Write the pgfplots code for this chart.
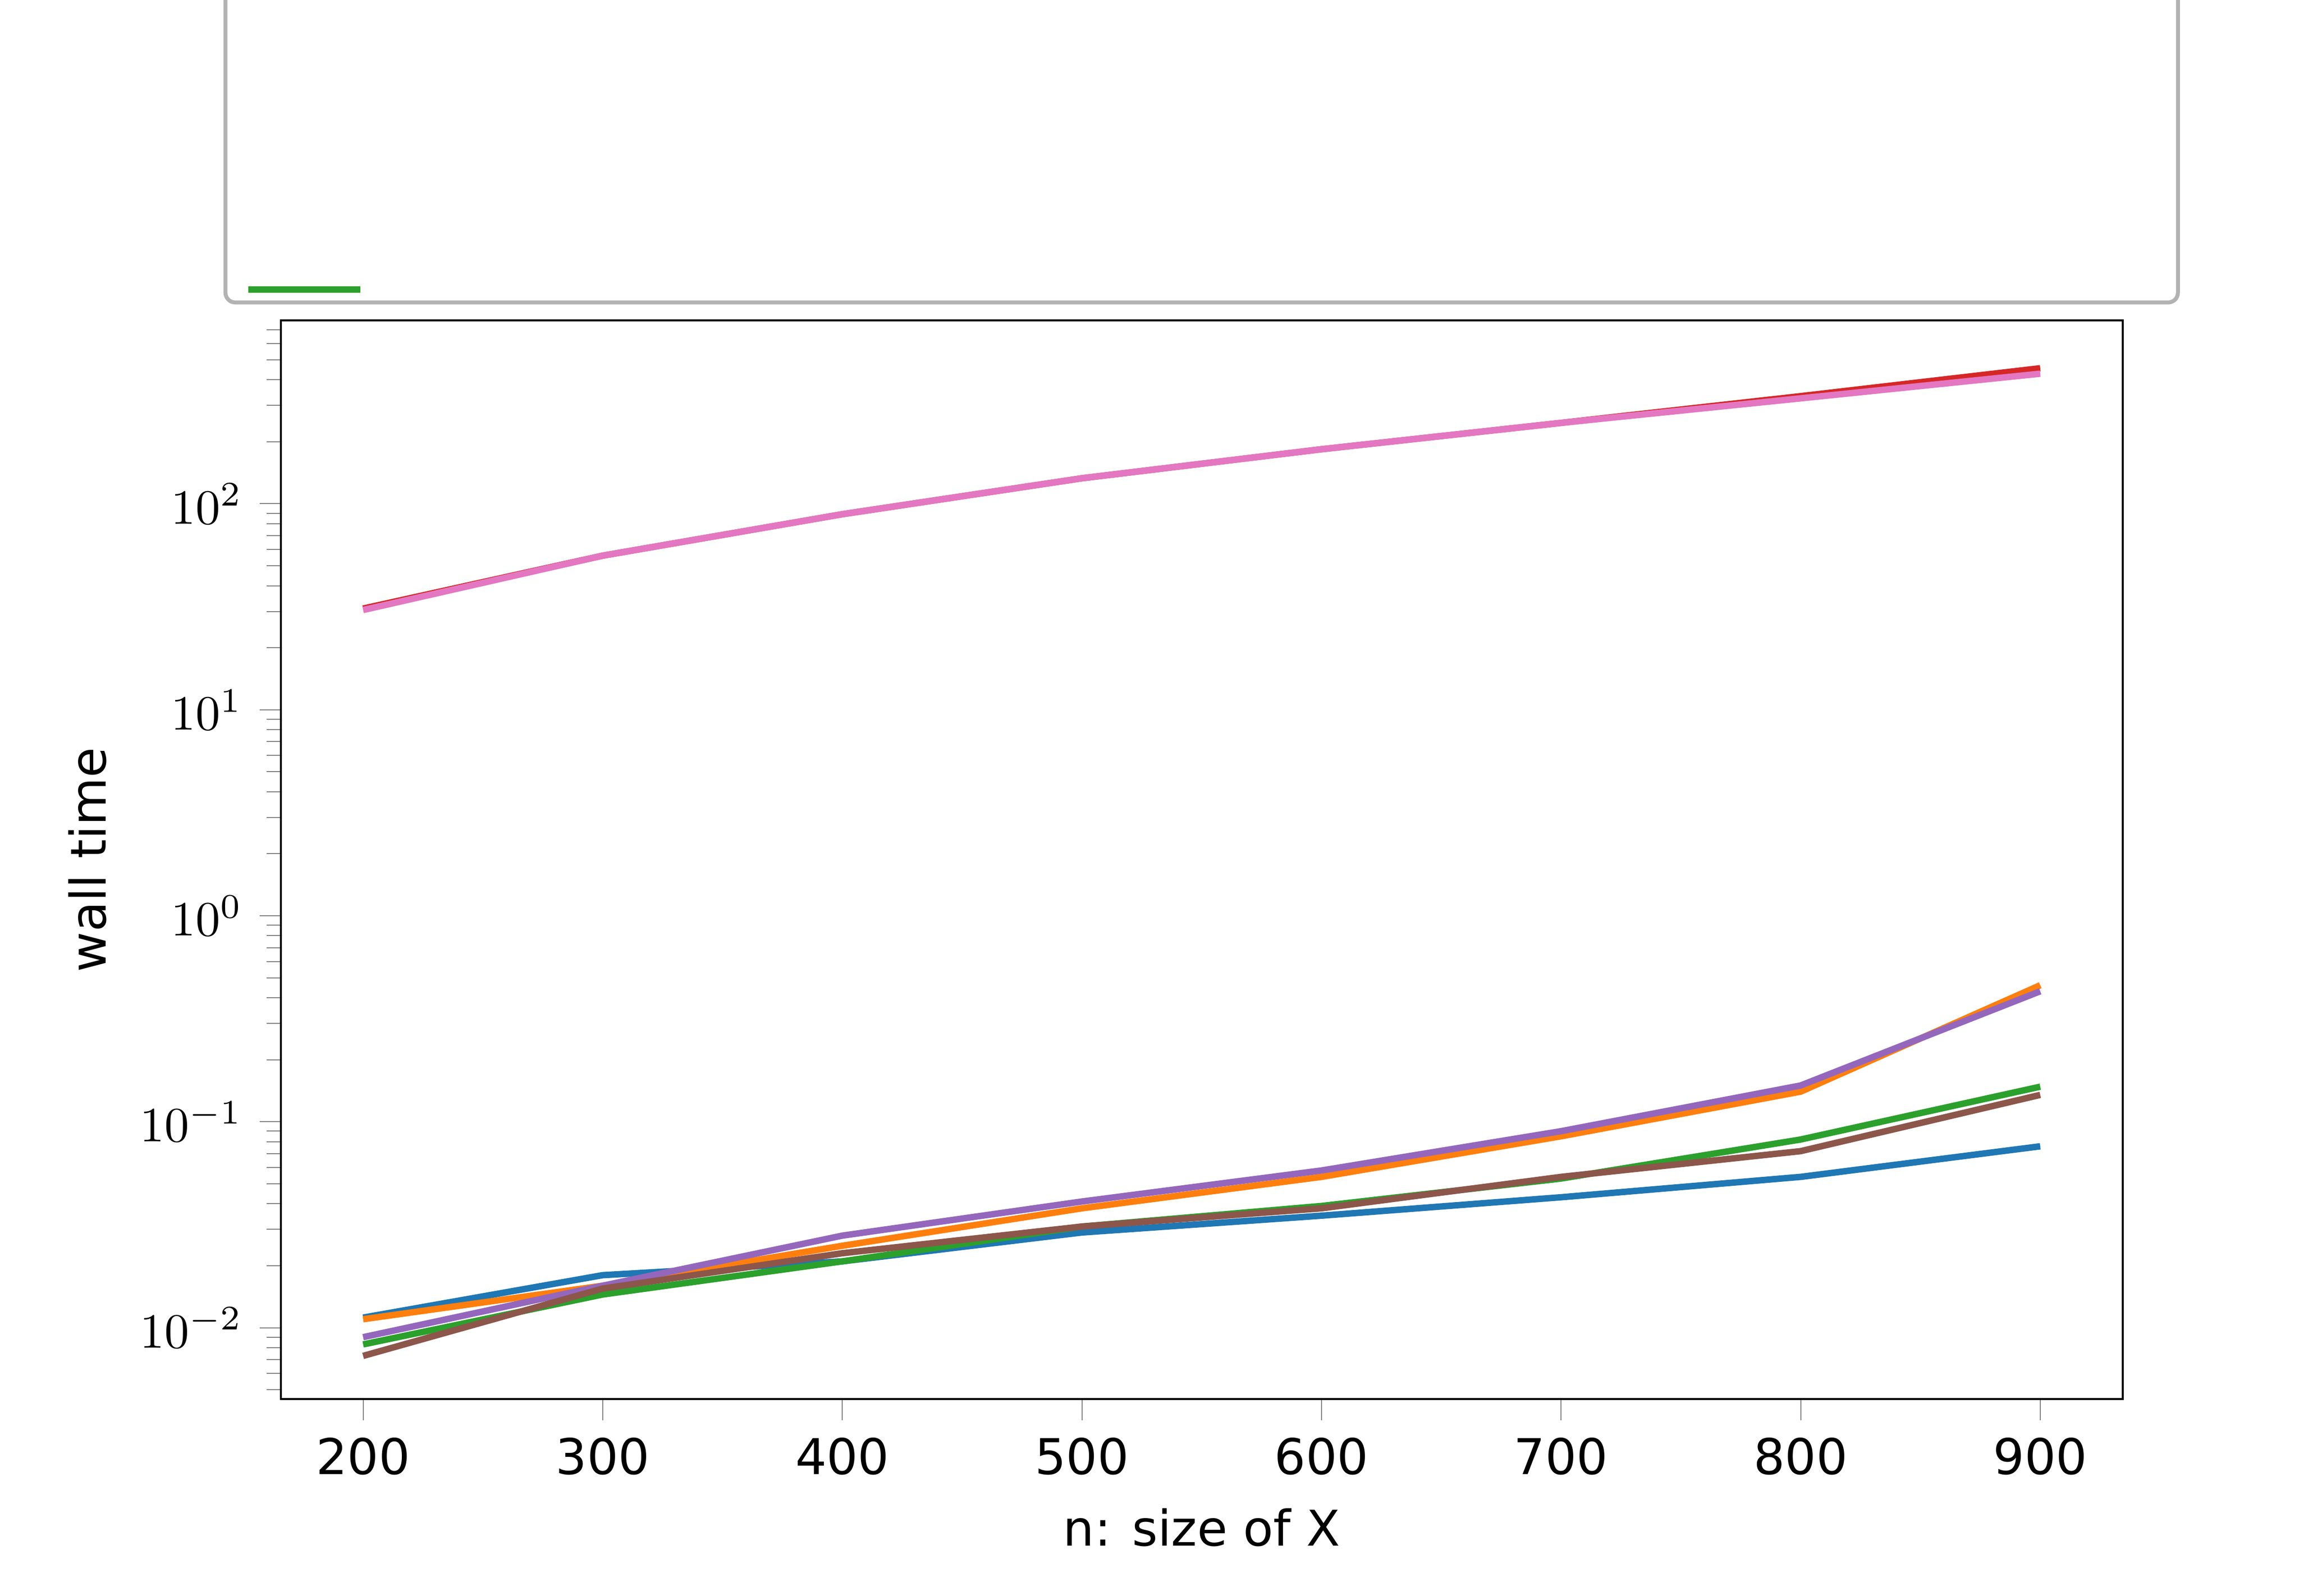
\documentclass[border=0pt]{standalone}
\usepackage{fontspec}
\setmainfont{DejaVu Sans}
\usepackage{pgfplots}
\pgfplotsset{compat=1.18}
\definecolor{C0}{HTML}{1F77B4}
\definecolor{C1}{HTML}{FF7F0E}
\definecolor{C2}{HTML}{2CA02C}
\definecolor{C3}{HTML}{D62728}
\definecolor{C4}{HTML}{9467BD}
\definecolor{C5}{HTML}{8C564B}
\definecolor{C6}{HTML}{E377C2}
\begin{document}
\begin{tikzpicture}
\path[use as bounding box] (-57pt,-39.9pt) rectangle (409.8pt,284.1pt);
\begin{axis}[
  scale only axis, width=374pt, height=219pt,
  ymode=log, xmin=165.6, xmax=934.4, ymin=0.0045, ymax=775,
  xtick={200,300,...,900},
  xticklabel={\pgfmathprintnumber[assume math mode=true]{\tick}},
  xlabel={n: size of X}, ylabel={wall time},
  tick align=outside, tick pos=left,
  every axis plot/.append style={line width=1.3pt},
  legend columns=3,
  legend image code/.code={\draw[#1] (0,0) -- (0.8cm,0);},
  legend style={at={(0.5,1.015)}, anchor=south, draw=gray!60, rounded corners=2pt,
    line width=0.8pt,
    fill=white, font=\normalsize, column sep=5pt, row sep=3pt, inner xsep=4pt,
    /tikz/every even column/.append style={column sep=22pt}},
  legend cell align=left,
]
\addlegendimage{C0, line width=1.3pt}\addlegendentry{partial OT}
\addlegendimage{C3, line width=1.3pt}\addlegendentry{sinkhorn-$\lambda=20.0$}
\addlegendimage{C5, line width=1.3pt}\addlegendentry{ours\_a-$\lambda=100.0$}
\addlegendimage{C1, line width=1.3pt}\addlegendentry{ours-$\lambda=20.0$}
\addlegendimage{C4, line width=1.3pt}\addlegendentry{ours-$\lambda=100.0$}
\addlegendimage{C6, line width=1.3pt}\addlegendentry{sinkhorn-$\lambda=100.0$}
\addlegendimage{C2, line width=1.3pt}\addlegendentry{ours\_a-$\lambda=20.0$}
\addplot[C0, forget plot] coordinates {(200,0.0112)(300,0.018)(400,0.021)(500,0.029)(600,0.035)(700,0.043)(800,0.054)(900,0.076)};
\addplot[C1, forget plot] coordinates {(200,0.011)(300,0.016)(400,0.025)(500,0.038)(600,0.054)(700,0.085)(800,0.14)(900,0.46)};
\addplot[C2, forget plot] coordinates {(200,0.0083)(300,0.0145)(400,0.021)(500,0.031)(600,0.039)(700,0.053)(800,0.082)(900,0.148)};
\addplot[C3, forget plot] coordinates {(200,31)(300,56)(400,89)(500,133)(600,184)(700,247)(800,333)(900,455)};
\addplot[C4, forget plot] coordinates {(200,0.009)(300,0.016)(400,0.028)(500,0.041)(600,0.058)(700,0.09)(800,0.15)(900,0.43)};
\addplot[C5, forget plot] coordinates {(200,0.0073)(300,0.0155)(400,0.023)(500,0.031)(600,0.038)(700,0.054)(800,0.072)(900,0.135)};
\addplot[C6, forget plot] coordinates {(200,30.5)(300,56)(400,89)(500,133)(600,184)(700,247)(800,325)(900,428)};
\end{axis}
\end{tikzpicture}
\end{document}
